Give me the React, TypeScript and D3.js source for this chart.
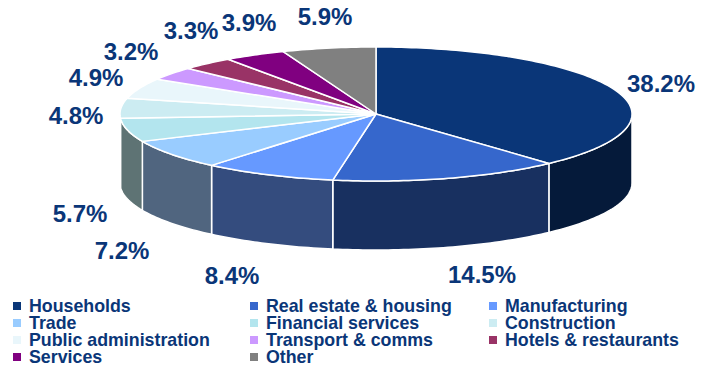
import React from "react";
import * as d3 from "d3";

const categories = ["Households","Real estate & housing","Manufacturing","Trade","Financial services","Construction","Public administration","Transport & comms","Hotels & restaurants","Services","Other"];
const shares = [38.2,14.5,8.4,7.2,5.7,4.8,4.9,3.2,3.3,3.9,5.9];
const topColors = ["#0a3678","#3667cc","#6699ff","#99ccff","#b3e5ee","#ccecf2","#e9f6fb","#cc99ff","#993366","#800080","#808080"];
const wallColors = ["#051a3a","#183060","#344c7e","#50657f","#5e7374","#5e7374","#5e7374","#5e7374","#5e7374","#5e7374","#5e7374"];
const labelCenters: [number, number][] = [[661,83],[482,274],[232,275],[122,250],[80,213],[76,115],[96,77],[131,51],[191,30],[249,22],[325,16]];

const CX = 376, CY = 114, RX = 256, RY = 67, DEPTH = 69;
const NAVY = "#0a3678";
const FONT = "'Liberation Sans', Arial, sans-serif";

const pie = d3.pie<number>().sort(null);
const arcs = pie(shares);
const px = (a: number) => CX + RX * Math.sin(a);
const py = (a: number) => CY - RY * Math.cos(a);

const line = d3.line<[number, number]>();

function topPath(a0: number, a1: number) {
  const n = Math.max(2, Math.ceil((a1 - a0) / 0.02));
  const pts: [number, number][] = [[CX, CY]];
  d3.range(n + 1).forEach(i => { const a = a0 + (a1 - a0) * i / n; pts.push([px(a), py(a)]); });
  return line(pts)! + "Z";
}

function wallPath(a0: number, a1: number) {
  const lo = Math.max(a0, Math.PI / 2), hi = Math.min(a1, 3 * Math.PI / 2);
  if (hi <= lo) return null;
  const n = Math.max(2, Math.ceil((hi - lo) / 0.02));
  const upper: [number, number][] = d3.range(n + 1).map(i => { const a = lo + (hi - lo) * i / n; return [px(a), py(a)]; });
  const lower = upper.slice().reverse().map(([x, y]) => [x, y + DEPTH] as [number, number]);
  return line(upper.concat(lower))! + "Z";
}

const legendX = [13, 250, 489];
const legendY = [306, 323, 340, 357];

export default function App() {
  return (
    <svg width={702} height={366} style={{ position: "absolute", left: 0, top: 0, background: "#fff" }} fontFamily={FONT}>
      {arcs.map((d, i) => {
        const p = wallPath(d.startAngle, d.endAngle);
        return p ? <path key={i} d={p} fill={wallColors[i]} stroke="#fff" strokeWidth={1.5} strokeLinejoin="round" /> : null;
      })}
      {arcs.map((d, i) => (
        <path key={i} d={topPath(d.startAngle, d.endAngle)} fill={topColors[i]} stroke="#fff" strokeWidth={1.5} strokeLinejoin="round" />
      ))}
      {shares.map((v, i) => (
        <text key={i} x={labelCenters[i][0]} y={labelCenters[i][1]} dy="0.36em" textAnchor="middle" fontSize={24} fontWeight="bold" fill={NAVY}>
          {v.toFixed(1)}%
        </text>
      ))}
      {categories.map((c, i) => {
        const col = i % 3, row = Math.floor(i / 3);
        return (
          <g key={c}>
            <rect x={legendX[col]} y={legendY[row] - 4} width={8} height={8} fill={topColors[i]} />
            <text x={legendX[col] + 16} y={legendY[row]} dy="0.36em" fontSize={17.8} fontWeight="bold" fill={NAVY}>{c}</text>
          </g>
        );
      })}
    </svg>
  );
}
